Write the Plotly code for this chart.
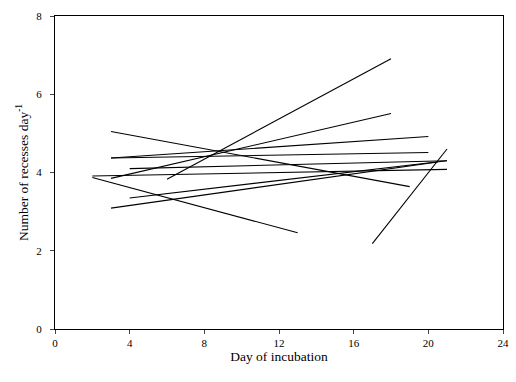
import plotly.graph_objects as go

# Each regression line: start/end day and start/end number of recesses
x_start = [3, 3, 3, 4, 3, 2, 2, 6, 4, 3, 17]
x_end   = [19, 20, 20, 21, 18, 21, 13, 18, 21, 20.5, 21]
y_start = [5.05, 4.37, 4.37, 4.10, 3.85, 3.91, 3.87, 3.83, 3.35, 3.09, 2.18]
y_end   = [3.64, 4.92, 4.51, 4.30, 5.51, 4.08, 2.46, 6.91, 4.30, 4.27, 4.60]

x_ticks = [0, 4, 8, 12, 16, 20, 24]
y_ticks = [0, 2, 4, 6, 8]

fig = go.Figure()
for xs, xe, ys, ye in zip(x_start, x_end, y_start, y_end):
    fig.add_trace(go.Scatter(x=[xs, xe], y=[ys, ye], mode="lines",
                             line=dict(color="black", width=1.1),
                             showlegend=False, hoverinfo="skip"))

font = dict(family="'Liberation Serif', 'Times New Roman', serif", color="black")
fig.update_layout(
    width=516, height=382,
    margin=dict(l=55, r=13, t=16, b=53),
    paper_bgcolor="white", plot_bgcolor="white",
    font=dict(size=11, **font),
    xaxis=dict(range=[0, 24], tickvals=x_ticks, ticks="outside", ticklen=4,
               showline=True, linecolor="black", linewidth=1, mirror=True,
               showgrid=False, zeroline=False, automargin=False,
               title=dict(text="Day of incubation", font=dict(size=13.5, **font), standoff=1)),
    yaxis=dict(range=[0, 8], tickvals=y_ticks, ticks="outside", ticklen=4,
               ticklabelstandoff=6,
               showline=True, linecolor="black", linewidth=1, mirror=True,
               showgrid=False, zeroline=False, automargin=False,
               title=dict(text="Number of recesses day<sup>-1</sup>", font=dict(size=13.5, **font), standoff=4)),
)
fig.write_html("out.html", config={"displayModeBar": False},
               post_script="document.body.style.margin='0px';")
